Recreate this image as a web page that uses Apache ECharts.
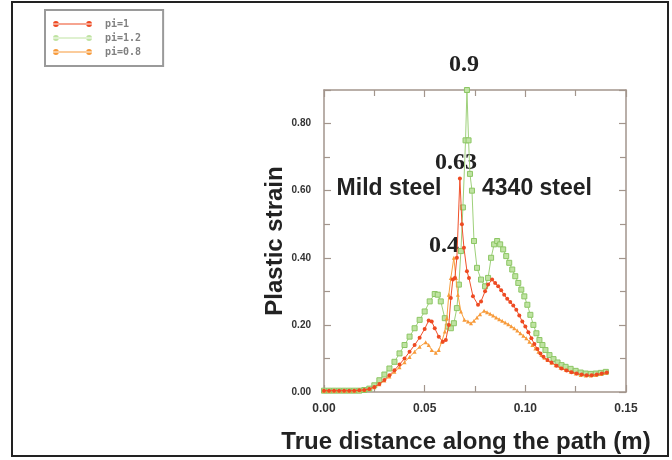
<!DOCTYPE html>
<html>
<head>
<meta charset="utf-8">
<script src="https://cdn.jsdelivr.net/npm/echarts@6/dist/echarts.min.js"></script>
<style>html,body{margin:0;padding:0;background:#fff}#c{width:672px;height:460px}</style>
</head>
<body>
<div id="c"></div>
<script>
// ---- data ----
var seriesNames = ['pi=1', 'pi=1.2', 'pi=0.8'];
var xTickLabels = ['0.00', '0.05', '0.10', '0.15'];
var yTickLabels = ['0.00', '0.20', '0.40', '0.60', '0.80'];

var pi1X = [0,0.0025,0.005,0.0075,0.01,0.0125,0.015,0.0175,0.02,0.0225,0.025,0.0275,0.03,0.0325,0.035,0.0375,0.04,0.0425,0.045,0.0475,0.05,0.052,0.0535,0.055,0.057,0.059,0.0605,0.062,0.063,0.064,0.065,0.066,0.0675,0.0685,0.0695,0.071,0.072,0.074,0.0765,0.078,0.08,0.0815,0.0835,0.085,0.0865,0.088,0.0895,0.091,0.0925,0.094,0.0955,0.097,0.0985,0.1,0.1015,0.103,0.1045,0.106,0.1075,0.109,0.111,0.113,0.1155,0.118,0.1205,0.123,0.1255,0.128,0.1305,0.133,0.1355,0.138,0.1405];
var pi1Y = [0.004,0.004,0.004,0.004,0.004,0.004,0.004,0.005,0.006,0.009,0.015,0.024,0.036,0.05,0.065,0.082,0.1,0.12,0.14,0.162,0.188,0.213,0.21,0.19,0.165,0.15,0.155,0.2,0.28,0.335,0.34,0.4,0.636,0.5,0.43,0.36,0.34,0.285,0.26,0.27,0.3,0.32,0.335,0.325,0.315,0.303,0.29,0.278,0.268,0.258,0.245,0.228,0.21,0.195,0.178,0.16,0.143,0.128,0.115,0.105,0.095,0.088,0.078,0.07,0.064,0.059,0.055,0.052,0.05,0.05,0.052,0.055,0.058];

var pi12X = [0,0.0025,0.005,0.0075,0.01,0.0125,0.015,0.0175,0.02,0.0225,0.025,0.0275,0.03,0.0325,0.035,0.0375,0.04,0.0425,0.045,0.0475,0.05,0.0525,0.055,0.0565,0.058,0.06,0.0615,0.063,0.0645,0.066,0.067,0.068,0.069,0.0703,0.071,0.0718,0.0725,0.0735,0.0745,0.076,0.078,0.08,0.0815,0.083,0.0845,0.086,0.0875,0.089,0.0905,0.092,0.0935,0.095,0.0965,0.098,0.0995,0.101,0.1025,0.104,0.1055,0.107,0.1085,0.11,0.112,0.114,0.116,0.118,0.12,0.1225,0.125,0.1275,0.13,0.1325,0.135,0.1375,0.14];
var pi12Y = [0.004,0.004,0.004,0.004,0.004,0.004,0.004,0.004,0.006,0.01,0.02,0.035,0.052,0.07,0.09,0.115,0.14,0.165,0.19,0.215,0.24,0.27,0.292,0.29,0.27,0.22,0.195,0.19,0.205,0.25,0.32,0.42,0.55,0.75,0.9,0.75,0.65,0.6,0.45,0.37,0.335,0.315,0.34,0.4,0.44,0.45,0.44,0.425,0.405,0.385,0.365,0.345,0.325,0.305,0.285,0.26,0.23,0.2,0.175,0.155,0.14,0.125,0.11,0.098,0.088,0.08,0.075,0.069,0.063,0.058,0.055,0.054,0.055,0.057,0.06];

var pi08X = [0,0.0025,0.005,0.0075,0.01,0.0125,0.015,0.0175,0.02,0.0225,0.025,0.0275,0.03,0.0325,0.035,0.0375,0.04,0.0425,0.045,0.0475,0.0505,0.052,0.0535,0.0555,0.057,0.0585,0.06,0.061,0.062,0.063,0.0645,0.0655,0.0665,0.068,0.0697,0.0715,0.073,0.0745,0.076,0.0775,0.0795,0.081,0.0825,0.084,0.0855,0.087,0.0885,0.09,0.0915,0.093,0.0945,0.096,0.0975,0.099,0.1005,0.102,0.1035,0.105,0.1065,0.108,0.1095,0.111,0.113,0.115,0.1175,0.12,0.1225,0.125,0.1275,0.13,0.1325,0.135,0.1375,0.14];
var pi08Y = [0.004,0.004,0.004,0.004,0.004,0.004,0.004,0.005,0.006,0.009,0.014,0.023,0.034,0.046,0.06,0.074,0.089,0.104,0.12,0.135,0.148,0.14,0.125,0.117,0.125,0.15,0.18,0.22,0.29,0.34,0.4,0.34,0.29,0.24,0.215,0.21,0.205,0.212,0.222,0.232,0.242,0.238,0.233,0.228,0.222,0.217,0.212,0.207,0.202,0.196,0.19,0.183,0.175,0.168,0.16,0.15,0.14,0.13,0.12,0.11,0.102,0.095,0.087,0.08,0.072,0.066,0.06,0.055,0.051,0.049,0.049,0.051,0.054,0.057];

var annotations = ['0.9', '0.63', '0.4'];
var materialLabels = ['Mild steel', '4340 steel'];

function zip(xs, ys) { return xs.map(function (x, i) { return [x, ys[i]]; }); }

var chart = echarts.init(document.getElementById('c'), null, { renderer: 'canvas' });

var frameColor = '#a2958c';
var G = { left: 324, top: 90, right: 46, bottom: 68 };
var tickCommon = { show: true, inside: true, length: 7, lineStyle: { color: frameColor, width: 1.2 } };
var minorCommon = { show: true, splitNumber: 2, length: 6, lineStyle: { color: frameColor, width: 1.2 } };
var lineCommon = { show: true, onZero: false, lineStyle: { color: frameColor, width: 1.5 } };

var legendIcon = 'path://M0,4.2h40v1.2H0z M0,4.8a3,3 0 1,0 6,0a3,3 0 1,0 -6,0z M34,4.8a3,3 0 1,0 6,0a3,3 0 1,0 -6,0z';

var option = {
  backgroundColor: '#ffffff',
  animation: false,
  grid: G,
  legend: {
    orient: 'vertical', left: 45, top: 10,
    padding: [8, 22, 8, 8],
    borderColor: '#9a9a9a', borderWidth: 2,
    itemWidth: 39, itemHeight: 7, itemGap: 2,
    icon: legendIcon,
    itemStyle: { borderWidth: 0 },
    lineStyle: { width: 0 },
    textStyle: { fontFamily: 'DejaVu Sans Mono', fontSize: 10, fontWeight: 'bold', color: '#808080', lineHeight: 12, padding: [0, 0, 0, 8] },
    data: seriesNames
  },
  xAxis: [{
    type: 'value', min: 0, max: 0.15, interval: 0.05,
    name: 'True distance along the path (m)', nameLocation: 'middle', nameGap: 38,
    nameTextStyle: { fontFamily: 'Liberation Sans', fontWeight: 'bold', fontSize: 24, color: '#222', padding: [0, 18, 0, 0] },
    axisLine: lineCommon,
    axisTick: tickCommon, minorTick: minorCommon, splitLine: { show: false },
    axisLabel: { margin: 11, fontFamily: 'Liberation Sans', fontWeight: 'bold', fontSize: 12, color: '#333',
      formatter: function (v) { var i = Math.round(v / 0.05); return xTickLabels[i] || ''; } }
  }, {
    type: 'value', position: 'top', min: 0, max: 0.15, interval: 0.05,
    axisLine: lineCommon,
    axisTick: tickCommon, minorTick: minorCommon, splitLine: { show: false }, axisLabel: { show: false }
  }],
  yAxis: [{
    type: 'value', min: 0, max: 0.9, interval: 0.2,
    name: 'Plastic strain', nameLocation: 'middle', nameGap: 37, nameRotate: 90,
    nameTextStyle: { fontFamily: 'Liberation Sans', fontWeight: 'bold', fontSize: 24, color: '#222' },
    axisLine: lineCommon,
    axisTick: tickCommon, minorTick: minorCommon, splitLine: { show: false },
    axisLabel: { margin: 13, fontFamily: 'Liberation Sans', fontWeight: 'bold', fontSize: 10, color: '#333',
      formatter: function (v) { var i = Math.round(v / 0.2); return yTickLabels[i] || ''; } }
  }, {
    type: 'value', position: 'right', min: 0, max: 0.9, interval: 0.2,
    axisLine: lineCommon,
    axisTick: tickCommon, minorTick: minorCommon, splitLine: { show: false }, axisLabel: { show: false }
  }],
  series: [{
    name: seriesNames[0], type: 'line', z: 4, data: zip(pi1X, pi1Y),
    symbol: 'circle', symbolSize: 4, showAllSymbol: true,
    lineStyle: { color: '#f0502a', width: 1 }, itemStyle: { color: '#ee4a22' }
  }, {
    name: seriesNames[1], type: 'line', z: 2, data: zip(pi12X, pi12Y),
    symbol: 'rect', symbolSize: 5, showAllSymbol: true,
    lineStyle: { color: '#9ed07a', width: 1 }, itemStyle: { color: '#bfe3a2', borderColor: '#8cc664', borderWidth: 1 }
  }, {
    name: seriesNames[2], type: 'line', z: 3, data: zip(pi08X, pi08Y),
    symbol: 'triangle', symbolSize: 4, showAllSymbol: true,
    lineStyle: { color: '#f7a040', width: 1 }, itemStyle: { color: '#f79a3a' }
  }],
  graphic: [
    { type: 'rect', shape: { x: 12, y: 2, width: 656, height: 454 }, style: { fill: 'none', stroke: '#222', lineWidth: 2 }, silent: true },
    { type: 'text', x: 464, y: 65, style: { text: annotations[0], font: 'bold 24px "Liberation Serif"', fill: '#222', align: 'center', verticalAlign: 'middle' } },
    { type: 'text', x: 456, y: 163, style: { text: annotations[1], font: 'bold 24px "Liberation Serif"', fill: '#222', align: 'center', verticalAlign: 'middle' } },
    { type: 'text', x: 444, y: 246, style: { text: annotations[2], font: 'bold 24px "Liberation Serif"', fill: '#222', align: 'center', verticalAlign: 'middle' } },
    { type: 'text', x: 389, y: 189, style: { text: materialLabels[0], font: 'bold 23px "Liberation Sans"', fill: '#222', align: 'center', verticalAlign: 'middle' } },
    { type: 'text', x: 537, y: 189, style: { text: materialLabels[1], font: 'bold 23px "Liberation Sans"', fill: '#222', align: 'center', verticalAlign: 'middle' } }
  ]
};
chart.setOption(option);
</script>
</body>
</html>
